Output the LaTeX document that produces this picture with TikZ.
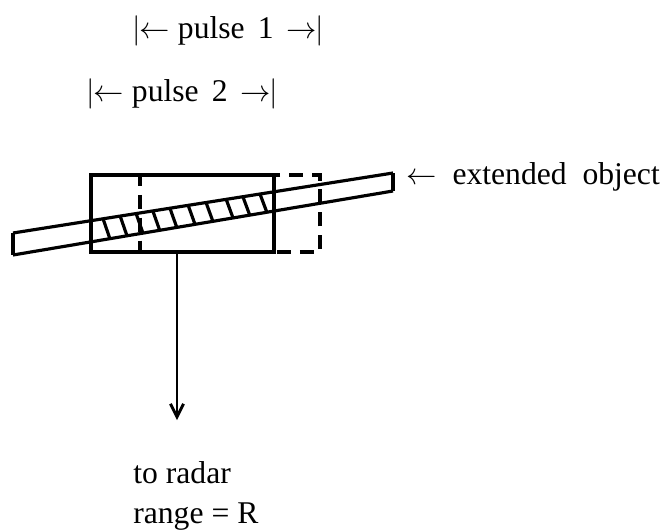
\documentclass[tikz,border=0pt]{standalone}
\usepackage{fontspec}
\setmainfont{Liberation Serif}
\usetikzlibrary{arrows.meta, calc}

\newcommand{\leftbar}{{\fontsize{17}{18}\selectfont$|\!\!\leftarrow$}}
\newcommand{\rightbar}{{\fontsize{17}{18}\selectfont$\rightarrow\!\!|$}}

\begin{document}
\begin{tikzpicture}[
    >={Straight Barb[length=2.6mm,width=2.6mm]},
    label_text/.style={font=\fontsize{18}{20}\selectfont, inner sep=0pt},
    pulse_box/.style={draw, line width=2.2pt, minimum height=1.54cm, inner sep=0pt}
]
\useasboundingbox (0, 0) rectangle (13.34, 10.58);

% PULSE LABELS
\node[label_text] (pulse1) at (4.57, 9.96) {\leftbar\ pulse\, 1\, \rightbar};
\node[label_text] (pulse2) at (3.65, 8.70) {\leftbar\ pulse\, 2\, \rightbar};

% PULSE BOXES
\node[pulse_box, dash pattern=on 8pt off 5pt, minimum width=3.6cm] (box2) at (4.6, 6.31) {};
\node[pulse_box, minimum width=3.66cm] (box1) at (3.65, 6.31) {};

% EXTENDED OBJECT
\coordinate (objTL) at (0.26, 5.92);
\coordinate (objBL) at (0.26, 5.48);
\coordinate (objTR) at (7.86, 7.12);
\coordinate (objBR) at (7.86, 6.76);
\draw[line width=1.8pt] (objTL) -- (objTR);
\draw[line width=1.8pt] (objBL) -- (objBR);
\draw[line width=2.6pt] (objTL) -- (objBL);
\draw[line width=2.6pt] (objTR) -- (objBR);

% HATCHING
\foreach \t in {0.237,0.282,0.324,0.368,0.413,0.461,0.508,0.561,0.605,0.650} {
    \draw[line width=1.8pt] ($(objTL)!\t!(objTR)$) -- ($(objBL)!\t+0.018!(objBR)$);
}

\node[label_text, anchor=west] (objLabel) at (8.12, 7.04) {{\fontsize{17}{18}\selectfont$\leftarrow$}\ \ extended\ \ object};

% TO RADAR
\coordinate (radarTop) at (3.54, 5.54);
\coordinate (radarEnd) at (3.54, 2.18);
\draw[->, line width=1.6pt] (radarTop) -- (radarEnd);

\node[label_text, anchor=west] (toRadar) at (2.66, 1.12) {to radar};
\node[label_text, anchor=west] (range) at (2.66, 0.24) {range = R};

\end{tikzpicture}
\end{document}
